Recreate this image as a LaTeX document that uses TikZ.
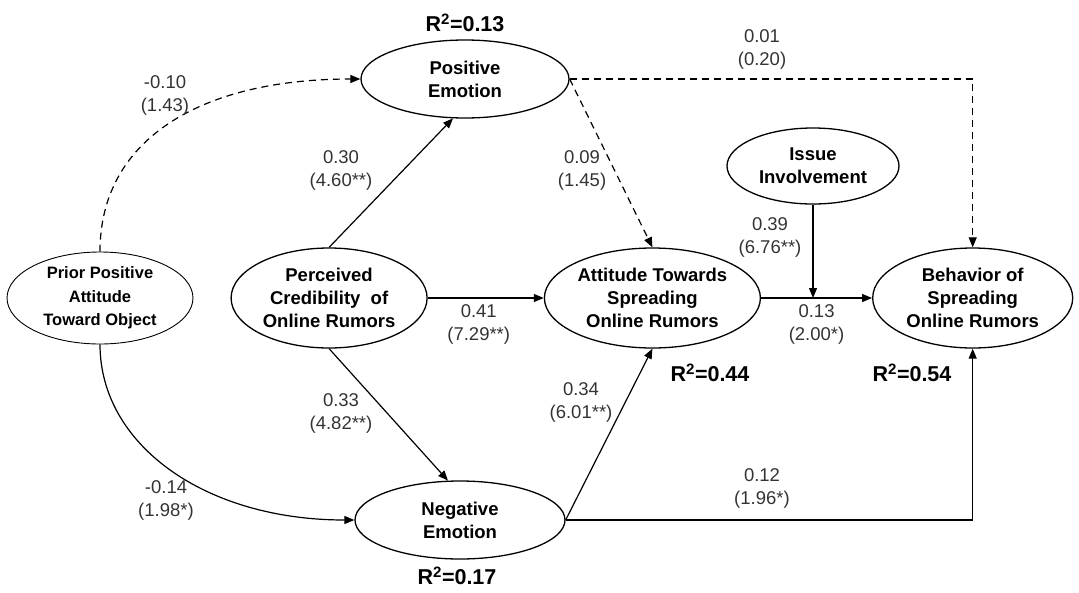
\documentclass[tikz,border=0pt]{standalone}
\usepackage{fontspec}
\setmainfont{Liberation Sans}
\usepackage{tikz}
\usetikzlibrary{arrows.meta,positioning,shapes.geometric,calc}

\begin{document}
\begin{tikzpicture}[x=1pt,y=1pt,
   lv/.style={ellipse,draw,line width=1.3pt,inner sep=0pt,align=center,
              font=\fontsize{18.5}{23}\selectfont\bfseries},
   coef/.style={align=center,text=black!80,font=\fontsize{18.5}{23}\selectfont},
   rsq/.style={font=\fontsize{21.5}{26}\selectfont\bfseries},
   path/.style={line width=1.2pt,-{Triangle[length=10pt,width=8pt]}},
   nspath/.style={path,dash pattern=on 7pt off 5pt}]
  \useasboundingbox (0,0) rectangle (1079,-592);
  % the row of constructs
  \node[lv,line width=0.9pt,minimum width=186pt,minimum height=92pt,
        font=\fontsize{16.5}{23.5}\selectfont\bfseries] (pri) at (100,-298)
       {Prior Positive\\Attitude\\Toward Object};
  \node[lv,minimum width=196pt,minimum height=100pt,right=37pt of pri] (cred)
       {Perceived\\Credibility\ \ of\\Online Rumors};
  \node[lv,minimum width=216pt,minimum height=100pt,right=116pt of cred] (att)
       {Attitude Towards\\Spreading\\Online Rumors};
  \node[lv,minimum width=200pt,minimum height=100pt,right=111pt of att] (beh)
       {Behavior of\\Spreading\\Online Rumors};
  \node[lv,minimum width=208pt,minimum height=78pt] (pos) at (465,-79)
       {Positive\\Emotion};
  \node[lv,minimum width=210pt,minimum height=78pt] (neg) at (460,-520)
       {Negative\\Emotion};
  \node[lv,minimum width=172pt,minimum height=76pt] (iss) at (813,-166)
       {Issue\\Involvement};
  % explained variance
  \node[rsq] (rpos) at (465,-23) {R\textsuperscript{2}=0.13};
  \node[rsq] (rneg) at (457,-576) {R\textsuperscript{2}=0.17};
  \node[rsq] (ratt) at (710,-373) {R\textsuperscript{2}=0.44};
  \node[rsq] (rbeh) at (912,-373) {R\textsuperscript{2}=0.54};
  % paths
  \draw[nspath] (pri.north) .. controls +(0,112) and +(-160,0) .. (pos.west);
  \draw[path] (pri.south) .. controls +(0,-100) and +(-150,0) .. (neg.west);
  \draw[path] (cred.north) -- (pos.-107);
  \draw[path] (cred.east) -- (att.west)
       node[coef,midway,below=3pt,xshift=-7pt] (lcredatt) {0.41\\(7.29**)};
  \draw[path] (cred.south) -- (neg.107);
  \draw[nspath] (pos.east) -- (att.north);
  \draw[nspath] (pos.east) -| (beh.north);
  \draw[path] (iss.south) -- (iss.south |- att.east);
  \draw[path] (att.east) -- (beh.west)
       node[coef,midway,below=3pt] (lattbeh) {0.13\\(2.00*)};
  \draw[path] (neg.east) -- (att.south);
  \draw[path] (neg.east) -| (beh.south);
  % coefficients
  \node[coef] (lpripos) at (165,-95) {-0.10\\(1.43)};
  \node[coef] (lprineg) at (166,-500) {-0.14\\(1.98*)};
  \node[coef] (lcredpos) at (341,-170) {0.30\\(4.60**)};
  \node[coef] (lcredneg) at (341,-413) {0.33\\(4.82**)};
  \node[coef] (lposatt) at (582,-170) {0.09\\(1.45)};
  \node[coef] (lposbeh) at (762,-49) {0.01\\(0.20)};
  \node[coef] (lissue) at (770,-237) {0.39\\(6.76**)};
  \node[coef] (lnegatt) at (581,-402) {0.34\\(6.01**)};
  \node[coef] (lnegbeh) at (762,-488) {0.12\\(1.96*)};
\end{tikzpicture}
\end{document}
